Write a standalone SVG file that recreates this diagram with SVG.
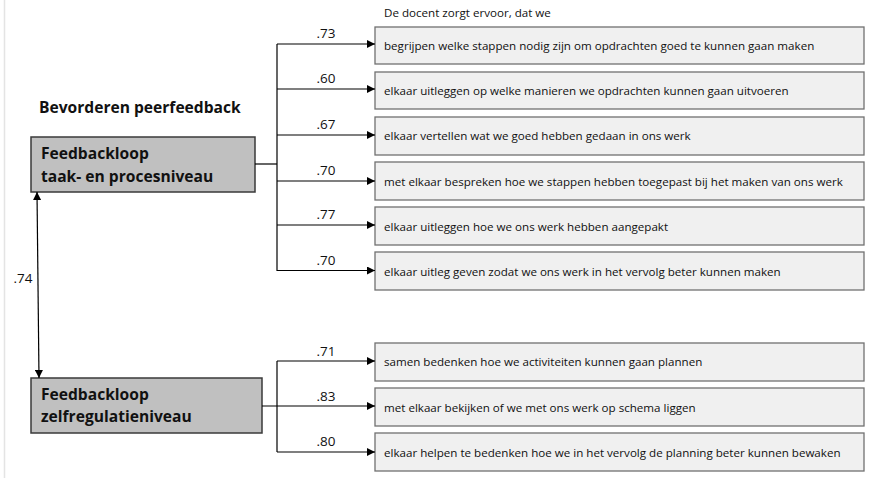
<svg xmlns="http://www.w3.org/2000/svg" width="872" height="478" viewBox="0 0 872 478">
<defs>
<marker id="ah" viewBox="0 0 10 10" refX="10" refY="5" markerWidth="10" markerHeight="8" markerUnits="userSpaceOnUse" orient="auto-start-reverse">
<path d="M0,0 L10,5 L0,10 z" fill="#000"/>
</marker>
<style>
.frame{stroke:#e4e4e4;stroke-width:1.5;fill:none}
.lat{fill:#c0c0c0;stroke:#3a3a3a;stroke-width:1.5}
.item{fill:#f0f0f0;stroke:#707070;stroke-width:1.3}
.bt{font-family:"Open Sans","Liberation Sans",sans-serif;font-weight:bold;font-size:15.6px;fill:#111}
.it{font-family:"Open Sans","Liberation Sans",sans-serif;font-size:11.6px;fill:#111}
.lb{font-family:"Open Sans","Liberation Sans",sans-serif;font-size:13.5px;fill:#111}
.ln{stroke:#000;stroke-width:1.2;fill:none}
.ar{stroke:#000;stroke-width:1.2;fill:none;marker-end:url(#ah)}
.ar2{stroke:#000;stroke-width:1.2;fill:none;marker-end:url(#ah);marker-start:url(#ah)}
</style>
</defs>
<rect width="872" height="478" fill="#fff"/>
<line class="frame" x1="4.5" y1="0" x2="4.5" y2="478"/>
<text class="bt" x="39" y="113">Bevorderen peerfeedback</text>
<text class="it" x="384" y="17">De docent zorgt ervoor, dat we</text>

<g id="taak">
<rect class="lat" x="31" y="137" width="224" height="55"/>
<text class="bt" x="41" y="159">Feedbackloop</text>
<text class="bt" x="41" y="182">taak- en procesniveau</text>
</g>
<g id="zelf">
<rect class="lat" x="31" y="378" width="231" height="55"/>
<text class="bt" x="41" y="400">Feedbackloop</text>
<text class="bt" x="41" y="422">zelfregulatieniveau</text>
</g>

<g id="i1"><rect class="item" x="375" y="27" width="489" height="37"/><text class="it" x="384" y="50">begrijpen welke stappen nodig zijn om opdrachten goed te kunnen gaan maken</text></g>
<g id="i2"><rect class="item" x="375" y="72" width="489" height="37"/><text class="it" x="384" y="95">elkaar uitleggen op welke manieren we opdrachten kunnen gaan uitvoeren</text></g>
<g id="i3"><rect class="item" x="375" y="117" width="489" height="38"/><text class="it" x="384" y="140">elkaar vertellen wat we goed hebben gedaan in ons werk</text></g>
<g id="i4"><rect class="item" x="375" y="162" width="489" height="38"/><text class="it" x="384" y="186">met elkaar bespreken hoe we stappen hebben toegepast bij het maken van ons werk</text></g>
<g id="i5"><rect class="item" x="375" y="207" width="489" height="38"/><text class="it" x="384" y="231">elkaar uitleggen hoe we ons werk hebben aangepakt</text></g>
<g id="i6"><rect class="item" x="375" y="252" width="489" height="38"/><text class="it" x="384" y="276">elkaar uitleg geven zodat we ons werk in het vervolg beter kunnen maken</text></g>
<g id="i7"><rect class="item" x="375" y="343" width="489" height="38"/><text class="it" x="384" y="366">samen bedenken hoe we activiteiten kunnen gaan plannen</text></g>
<g id="i8"><rect class="item" x="375" y="388" width="489" height="38"/><text class="it" x="384" y="412">met elkaar bekijken of we met ons werk op schema liggen</text></g>
<g id="i9"><rect class="item" x="375" y="433" width="489" height="38"/><text class="it" x="384" y="457">elkaar helpen te bedenken hoe we in het vervolg de planning beter kunnen bewaken</text></g>

<g id="connectors">
<line class="ln" x1="255" y1="164" x2="277" y2="164"/>
<line class="ln" x1="277" y1="44" x2="277" y2="271"/>
<line class="ar" x1="277" y1="44" x2="375" y2="44"/>
<line class="ar" x1="277" y1="89" x2="375" y2="89"/>
<line class="ar" x1="277" y1="135" x2="375" y2="135"/>
<line class="ar" x1="277" y1="181" x2="375" y2="181"/>
<line class="ar" x1="277" y1="225" x2="375" y2="225"/>
<line class="ar" x1="277" y1="270.5" x2="375" y2="270.5"/>
<line class="ln" x1="277" y1="361" x2="277" y2="452"/>
<line class="ar" x1="277" y1="361" x2="375" y2="361"/>
<line class="ar" x1="262" y1="406" x2="375" y2="406"/>
<line class="ar" x1="277" y1="452" x2="375" y2="452"/>
<line class="ar2" x1="37" y1="192" x2="39" y2="378"/>
<text class="lb" x="326" y="38" text-anchor="middle">.73</text>
<text class="lb" x="326" y="83" text-anchor="middle">.60</text>
<text class="lb" x="326" y="129" text-anchor="middle">.67</text>
<text class="lb" x="326" y="175" text-anchor="middle">.70</text>
<text class="lb" x="326" y="219" text-anchor="middle">.77</text>
<text class="lb" x="326" y="265" text-anchor="middle">.70</text>
<text class="lb" x="326" y="356" text-anchor="middle">.71</text>
<text class="lb" x="326" y="401" text-anchor="middle">.83</text>
<text class="lb" x="326" y="446" text-anchor="middle">.80</text>
<text class="lb" x="23" y="283" text-anchor="middle">.74</text>
</g>
</svg>
